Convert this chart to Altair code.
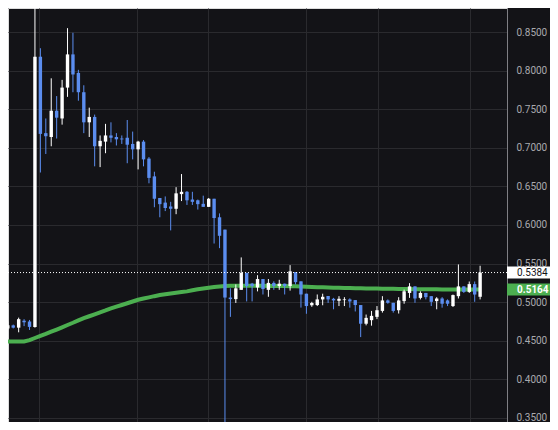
import altair as alt
import pandas as pd

# ---- data ----
opens = [0.466, 0.470, 0.467, 0.476, 0.475, 0.468, 0.818, 0.719, 0.714, 0.748,
         0.738, 0.778, 0.821, 0.797, 0.772, 0.733, 0.740, 0.702, 0.708, 0.716,
         0.714, 0.712, 0.713, 0.705, 0.698, 0.708, 0.686, 0.663, 0.635, 0.629,
         0.624, 0.621, 0.640, 0.643, 0.633, 0.632, 0.6274, 0.6235, 0.634, 0.610,
         0.594, 0.506, 0.504, 0.516, 0.538, 0.524, 0.519, 0.530, 0.516, 0.525,
         0.521, 0.524, 0.521, 0.539, 0.527, 0.511, 0.496, 0.4963, 0.5036, 0.508,
         0.5044, 0.5018, 0.5027, 0.5036, 0.5027, 0.4963, 0.4721, 0.4767, 0.4810, 0.4887,
         0.5023, 0.4992, 0.4896, 0.5014, 0.5120, 0.5205, 0.5056, 0.5120, 0.5078, 0.5014,
         0.5048, 0.5023, 0.4950, 0.5078, 0.5205, 0.5133, 0.5234, 0.5070]
highs = [0.475, 0.471, 0.480, 0.478, 0.477, 0.950, 0.829, 0.738, 0.790, 0.767,
         0.788, 0.855, 0.849, 0.801, 0.781, 0.752, 0.743, 0.716, 0.731, 0.733,
         0.719, 0.716, 0.736, 0.721, 0.709, 0.710, 0.688, 0.669, 0.635, 0.637,
         0.630, 0.649, 0.666, 0.644, 0.643, 0.633, 0.638, 0.635, 0.634, 0.615,
         0.594, 0.518, 0.523, 0.558, 0.538, 0.525, 0.535, 0.530, 0.530, 0.527,
         0.529, 0.524, 0.548, 0.539, 0.527, 0.511, 0.5005, 0.510, 0.511, 0.508,
         0.5056, 0.5078, 0.5065, 0.5050, 0.5027, 0.4963, 0.4840, 0.4887, 0.4950, 0.5078,
         0.5036, 0.4992, 0.5065, 0.5163, 0.5247, 0.5205, 0.5141, 0.5120, 0.5078, 0.5065,
         0.5065, 0.5036, 0.5099, 0.5489, 0.5205, 0.5268, 0.5268, 0.5472]
lows = [0.464, 0.466, 0.461, 0.469, 0.464, 0.467, 0.668, 0.692, 0.702, 0.712,
        0.730, 0.766, 0.772, 0.761, 0.719, 0.714, 0.676, 0.675, 0.693, 0.707,
        0.703, 0.705, 0.680, 0.685, 0.672, 0.676, 0.654, 0.623, 0.610, 0.618,
        0.593, 0.614, 0.631, 0.626, 0.626, 0.620, 0.6235, 0.6235, 0.576, 0.570,
        0.300, 0.481, 0.499, 0.516, 0.501, 0.501, 0.514, 0.510, 0.507, 0.516,
        0.516, 0.510, 0.515, 0.523, 0.493, 0.485, 0.494, 0.495, 0.496, 0.499,
        0.4908, 0.4950, 0.4950, 0.4929, 0.4880, 0.4548, 0.4700, 0.4696, 0.4781, 0.4865,
        0.4980, 0.4865, 0.4853, 0.4980, 0.5056, 0.4992, 0.5036, 0.5036, 0.4950, 0.4908,
        0.4929, 0.4950, 0.4938, 0.5048, 0.5120, 0.5120, 0.5005, 0.5036]
closes = [0.470, 0.467, 0.478, 0.474, 0.468, 0.818, 0.718, 0.715, 0.748, 0.739,
          0.778, 0.821, 0.795, 0.772, 0.733, 0.740, 0.702, 0.709, 0.716, 0.713,
          0.711, 0.7109, 0.704, 0.698, 0.708, 0.685, 0.661, 0.634, 0.627, 0.622,
          0.621, 0.641, 0.643, 0.632, 0.630, 0.627, 0.6235, 0.634, 0.609, 0.586,
          0.506, 0.504, 0.518, 0.538, 0.521, 0.521, 0.530, 0.517, 0.525, 0.521,
          0.524, 0.521, 0.540, 0.526, 0.510, 0.495, 0.499, 0.5036, 0.507, 0.5036,
          0.5023, 0.5044, 0.5036, 0.5010, 0.4963, 0.4721, 0.4797, 0.4823, 0.4896, 0.5023,
          0.4992, 0.4887, 0.5023, 0.5141, 0.5205, 0.5048, 0.5120, 0.5065, 0.5005, 0.5048,
          0.4980, 0.4980, 0.5092, 0.5205, 0.5133, 0.5234, 0.5099, 0.5384]
ma = [0.4492, 0.4492, 0.4492, 0.4492, 0.4508, 0.4536, 0.4564, 0.4590, 0.4618, 0.4646,
      0.4675, 0.4705, 0.4734, 0.4765, 0.4794, 0.4818, 0.4843, 0.4869, 0.4893, 0.4919,
      0.4942, 0.4964, 0.4986, 0.5009, 0.5031, 0.5047, 0.5062, 0.5078, 0.5092, 0.5102,
      0.5112, 0.5121, 0.5131, 0.5140, 0.5155, 0.5167, 0.5178, 0.5188, 0.5197, 0.5203,
      0.5210, 0.5212, 0.5213, 0.5213, 0.5213, 0.5213, 0.5212, 0.5212, 0.5211, 0.5211,
      0.5210, 0.5209, 0.5207, 0.5205, 0.5203, 0.5200, 0.5197, 0.5194, 0.5192, 0.5190,
      0.5188, 0.5186, 0.5185, 0.5183, 0.5181, 0.5180, 0.5178, 0.5177, 0.5176, 0.5175,
      0.5174, 0.5173, 0.5172, 0.5171, 0.5170, 0.5169, 0.5168, 0.5168, 0.5167, 0.5167,
      0.5166, 0.5166, 0.5165, 0.5165, 0.5165, 0.5164, 0.5164, 0.5164]

y_ticks = [0.35, 0.40, 0.45, 0.50, 0.55, 0.60, 0.65, 0.70, 0.75, 0.80, 0.85]
x_grid = [5.83, 23.88, 36.88, 54.93, 68.1, 85.07]
last_price = [0.5384]
last_text = ["0.5384"]
ma_price = [0.5164]
ma_text = ["0.5164"]

# ---- styling ----
BG = "#131317"
GRID = "#2a2a2e"
UP = "#ffffff"
DOWN = "#5b8def"
GREEN = "#4caf50"

n = len(opens)
df = pd.DataFrame({"i": list(range(n)), "open": opens, "high": highs,
                   "low": lows, "close": closes, "ma": ma})
df["dir"] = ["up" if c >= o else "down" for o, c in zip(opens, closes)]

last_df = pd.DataFrame({"v": last_price, "t": last_text})
ma_df = pd.DataFrame({"v": ma_price, "t": ma_text})

x_scale = alt.Scale(domain=[0.957, 91.03], nice=False, zero=False)
y_scale = alt.Scale(domain=[0.3448, 0.8811], nice=False, zero=False)

x_axis = alt.Axis(values=x_grid, labels=False, ticks=False, domain=False,
                  grid=True, gridColor=GRID, gridWidth=1, gridOpacity=1, title=None)
y_axis = alt.Axis(orient="right", values=y_ticks, format=".4f",
                  labelColor="#a9a9ae", labelFontSize=10, labelFont="Roboto",
                  labelPadding=9, ticks=False, domain=True, domainColor="#7f7f84",
                  domainWidth=1, grid=True, gridColor=GRID, gridWidth=1,
                  gridOpacity=1, title=None)

color = alt.Color("dir:N", scale=alt.Scale(domain=["up", "down"], range=[UP, DOWN]),
                  legend=None)

base = alt.Chart(df)

ma_line = base.mark_line(color=GREEN, strokeWidth=4, clip=True).encode(
    x=alt.X("i:Q", scale=x_scale, axis=x_axis, title=None),
    y=alt.Y("ma:Q", scale=y_scale, axis=y_axis, title=None),
)

wick = base.mark_rule(strokeWidth=1, clip=True).encode(
    x=alt.X("i:Q", title=None),
    y=alt.Y("low:Q", title=None),
    y2="high:Q",
    color=color,
)

body = base.mark_bar(size=3.4, clip=True).encode(
    x=alt.X("i:Q", title=None),
    y=alt.Y("open:Q", title=None),
    y2="close:Q",
    color=color,
)

price_line = alt.Chart(last_df).mark_rule(color="#ffffff", strokeDash=[1, 2],
                                          strokeWidth=1).encode(
    y=alt.Y("v:Q", title=None),
)

box_last = alt.Chart(last_df).mark_rule(strokeWidth=12, strokeCap="butt",
                                        color="#ffffff").encode(
    x=alt.value(499), x2=alt.value(542),
    y=alt.Y("v:Q", title=None),
)
box_ma = alt.Chart(ma_df).mark_rule(strokeWidth=12, strokeCap="butt",
                                    color=GREEN).encode(
    x=alt.value(499), x2=alt.value(542),
    y=alt.Y("v:Q", title=None),
)

text_last = alt.Chart(last_df).mark_text(align="left", baseline="middle", font="Roboto",
                                         fontSize=10, color="#131317").encode(
    x=alt.value(509),
    y=alt.Y("v:Q", title=None),
    text="t:N",
)
text_ma = alt.Chart(ma_df).mark_text(align="left", baseline="middle", font="Roboto",
                                     fontSize=10, fontWeight="bold", color="#ffffff").encode(
    x=alt.value(509),
    y=alt.Y("v:Q", title=None),
    text="t:N",
)

chart = alt.layer(ma_line, wick, body, price_line, box_last, box_ma,
                  text_last, text_ma).properties(
    width=499,
    height=414,
    background=BG,
    padding={"left": 0, "top": 0, "right": 43, "bottom": 0},
    autosize=alt.AutoSizeParams(type="none"),
).configure_view(stroke=None).configure(font="Roboto")

chart.save("out.html", embed_options={"renderer": "svg", "actions": False})
